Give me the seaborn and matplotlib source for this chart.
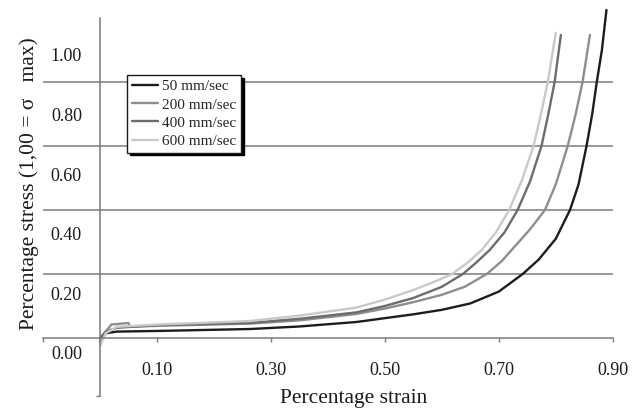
import matplotlib
matplotlib.use("Agg")
import matplotlib.pyplot as plt
import matplotlib.transforms as mtransforms
import seaborn as sns
import pandas as pd

sns.set_theme(style="white")
plt.rcParams["font.family"] = ["Liberation Serif", "DejaVu Serif"]

# valeurs
speeds = ["50 mm/sec", "200 mm/sec", "400 mm/sec", "600 mm/sec"]

strain_50 = [0.0, 0.01, 0.03, 0.1, 0.263, 0.35, 0.45, 0.5, 0.55, 0.6, 0.65, 0.7,
             0.742, 0.77, 0.8, 0.825, 0.84, 0.854, 0.864, 0.872, 0.881, 0.889]
stress_50 = [-0.01, 0.015, 0.02, 0.022, 0.028, 0.036, 0.05, 0.062, 0.074, 0.088, 0.108, 0.145,
             0.2, 0.245, 0.31, 0.4, 0.48, 0.6, 0.7, 0.8, 0.9, 1.025]

strain_200 = [0.0, 0.01, 0.02, 0.05, 0.052, 0.1, 0.263, 0.35, 0.45, 0.5, 0.55, 0.6,
              0.64, 0.679, 0.705, 0.73, 0.755, 0.781, 0.8, 0.821, 0.835, 0.847, 0.86]
stress_200 = [-0.01, 0.02, 0.042, 0.047, 0.035, 0.038, 0.045, 0.055, 0.075, 0.092, 0.112, 0.135,
              0.16, 0.2, 0.24, 0.29, 0.34, 0.4, 0.48, 0.6, 0.7, 0.8, 0.947]

strain_400 = [0.0, 0.01, 0.03, 0.1, 0.263, 0.35, 0.45, 0.5, 0.55, 0.6, 0.637, 0.66,
              0.684, 0.71, 0.733, 0.755, 0.775, 0.787, 0.798, 0.809]
stress_400 = [0.0, 0.02, 0.032, 0.04, 0.047, 0.06, 0.08, 0.1, 0.125, 0.16, 0.2, 0.235,
              0.275, 0.33, 0.4, 0.49, 0.6, 0.7, 0.8, 0.947]

strain_600 = [0.0, 0.01, 0.03, 0.1, 0.263, 0.35, 0.45, 0.5, 0.55, 0.59, 0.618, 0.645,
              0.67, 0.695, 0.718, 0.74, 0.761, 0.774, 0.786, 0.80]
stress_600 = [-0.025, 0.015, 0.035, 0.042, 0.053, 0.07, 0.095, 0.12, 0.15, 0.178, 0.2, 0.235,
              0.275, 0.33, 0.4, 0.49, 0.6, 0.7, 0.8, 0.953]

x_ticks = [0.1, 0.3, 0.5, 0.7, 0.9]
x_labels = ["0.10", "0.30", "0.50", "0.70", "0.90"]
y_ticks = [0.0, 0.2, 0.4, 0.6, 0.8, 1.0]
y_labels = ["0.00", "0.20", "0.40", "0.60", "0.80", "1.00"]
grid_levels = [0.2, 0.4, 0.6, 0.8]

palette = {
    "50 mm/sec": "#1c1c1c",
    "200 mm/sec": "#8e8e8e",
    "400 mm/sec": "#6c6c6c",
    "600 mm/sec": "#c9c9c9",
}

frames = []
for name, xs, ys in zip(
    speeds,
    [strain_50, strain_200, strain_400, strain_600],
    [stress_50, stress_200, stress_400, stress_600],
):
    frames.append(pd.DataFrame({"strain": xs, "stress": ys, "speed": name}))
df = pd.concat(frames, ignore_index=True)

fig = plt.figure(figsize=(6.4, 4.08), dpi=100)
ax = fig.add_axes([0.0672, 0.0304, 0.908, 0.9647])

ax.hlines(grid_levels, -0.1, 0.9, color="#7a7a7a", lw=1.1, zorder=0)

sns.lineplot(
    data=df, x="strain", y="stress", hue="speed", hue_order=speeds,
    palette=palette, estimator=None, sort=False, lw=1.7, ax=ax,
)

ax.set_xlim(-0.1, 0.92)
ax.set_ylim(-0.18, 1.05)

for side in ["top", "right"]:
    ax.spines[side].set_visible(False)
ax.spines["left"].set_position(("data", 0))
ax.spines["left"].set_bounds(-0.18, 1.0)
ax.spines["bottom"].set_position(("data", 0))
ax.spines["bottom"].set_bounds(-0.1, 0.9)
for side in ["left", "bottom"]:
    ax.spines[side].set_color("#7a7a7a")
    ax.spines[side].set_linewidth(1.1)

ax.set_xticks(x_ticks)
ax.set_xticklabels(x_labels)
ax.set_xticks([-0.1], minor=True)
ax.tick_params(axis="x", which="both", bottom=True, direction="out", length=3,
               width=1, color="#7a7a7a", labelsize=13, pad=14, labelcolor="#1a1a1a")

ax.set_yticks(y_ticks)
ax.set_yticklabels(y_labels)
ax.set_yticks([-0.18], minor=True)
ax.tick_params(axis="y", which="major", left=True, length=0, labelsize=13, pad=13,
               labelcolor="#1a1a1a")
ax.tick_params(axis="y", which="minor", left=True, length=3, width=1, color="#7a7a7a")

# les labels de l'axe y sont decales vers le bas dans l'original
for lbl, v in zip(ax.get_yticklabels(), y_ticks):
    offset = mtransforms.ScaledTranslation(0, -(15 + 22 * v) / 100, fig.dpi_scale_trans)
    lbl.set_transform(lbl.get_transform() + offset)

ax.set_xlabel("Percentage strain", fontsize=15.5, color="#1a1a1a")
ax.xaxis.set_label_coords(0.534, 0.016)
ax.set_ylabel("Percentage stress (1,00 = σ   max)", fontsize=15.5, color="#1a1a1a")
ax.yaxis.set_label_coords(-0.007, 0.538)

handles, labels = ax.get_legend_handles_labels()
leg = ax.legend(
    handles, labels, loc="upper left",
    bbox_to_anchor=(127 / 640, 1 - 75 / 408), bbox_transform=fig.transFigure,
    borderaxespad=0, fontsize=11, labelspacing=0.3, borderpad=0.3,
    handlelength=1.7, handletextpad=0.3, fancybox=False, framealpha=1,
    shadow={"color": "black", "alpha": 1},
)
leg.get_frame().set_edgecolor("#1a1a1a")
leg.get_frame().set_linewidth(1)

plt.savefig("out.png", dpi=100)
